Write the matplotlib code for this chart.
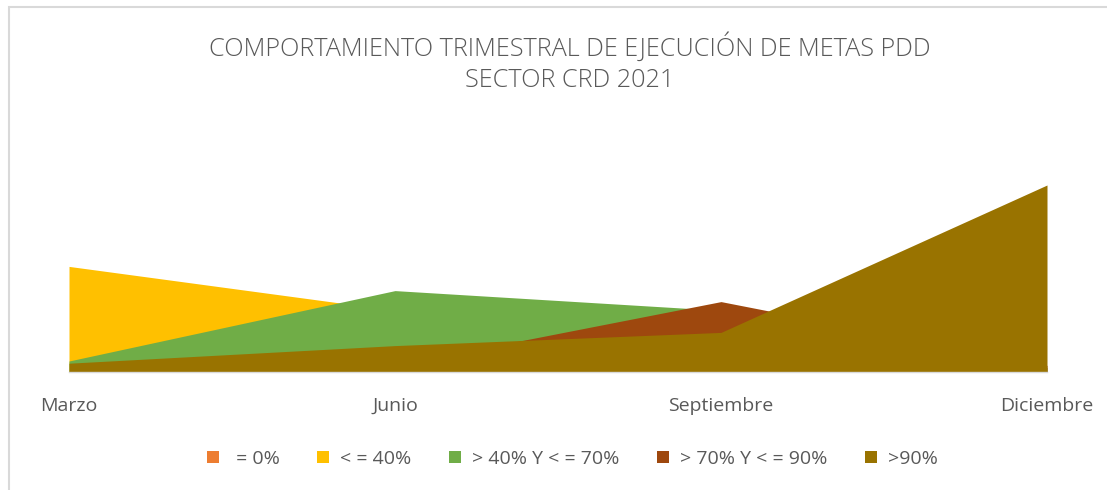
import matplotlib.pyplot as plt
from matplotlib.patches import Rectangle

plt.rcParams['font.family'] = ['Open Sans', 'DejaVu Sans']

# Data
meses = ["Marzo", "Junio", "Septiembre", "Diciembre"]
cero = [0, 0, 0, 0]
hasta_40 = [48, 28, 5, 0]
entre_40_70 = [5, 37, 28, 2]
entre_70_90 = [0, 3, 32, 3]
mas_90 = [4, 12, 18, 85]

series = [
    (" = 0%", cero, "#ed7d31"),
    ("< = 40%", hasta_40, "#ffc000"),
    ("> 40% Y < = 70%", entre_40_70, "#70ad47"),
    ("> 70% Y < = 90%", entre_70_90, "#9e480e"),
    (">90%", mas_90, "#997300"),
]

fig = plt.figure(figsize=(11.07, 4.90), dpi=100)
ax = fig.add_axes([69 / 1107, 118 / 490, (1047 - 69) / 1107, 220 / 490])

x = range(len(meses))
for label, vals, color in series:
    ax.fill_between(x, 0, vals, color=color, label=label, linewidth=0)

ax.set_xlim(0, len(meses) - 1)
ax.set_ylim(0, 100)
ax.set_yticks([])
ax.set_xticks(list(x))
ax.set_xticklabels(meses, fontsize=14, color="#595959")
ax.tick_params(axis="x", length=0, pad=18)
for side in ["top", "left", "right"]:
    ax.spines[side].set_visible(False)
ax.spines["bottom"].set_color("#d9d9d9")
ax.spines["bottom"].set_linewidth(1)

fig.text(0.515, 0.872, "COMPORTAMIENTO TRIMESTRAL DE EJECUCIÓN DE METAS PDD\nSECTOR CRD 2021",
         ha="center", va="center", fontsize=18.2, color="#595959", linespacing=1.35,
         fontweight="light")

ax.legend(loc="center", bbox_to_anchor=(0.515, -0.394), ncol=5, frameon=False,
          fontsize=14, labelcolor="#595959", handlelength=0.62, handleheight=0.62,
          handletextpad=0.6, columnspacing=1.9)

# light frame around the chart
fig.patches.append(Rectangle((9 / 1107, -0.1), 1.2, 0.1 + (490 - 7) / 490,
                             transform=fig.transFigure, fill=False,
                             edgecolor="#d9d9d9", linewidth=1.5))

plt.savefig("out.png", dpi=100)
